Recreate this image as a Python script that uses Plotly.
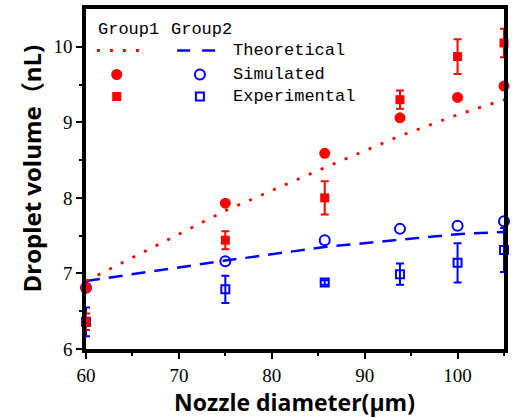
import plotly.graph_objects as go

# Nozzle diameters (µm)
nozzle_d = [60, 75, 85.7, 93.8, 100, 105]

# Group 1 (red)
g1_theory = [6.90, 7.83, 8.40, 8.82, 9.10, 9.30]
g1_sim = [6.81, 7.93, 8.59, 9.06, 9.33, 9.48]
g1_exp = [6.36, 7.44, 8.00, 9.30, 9.87, 10.05]
g1_exp_err = [0.11, 0.12, 0.22, 0.12, 0.23, 0.19]

# Group 2 (blue)
g2_theory = [6.90, 7.17, 7.35, 7.45, 7.52, 7.55]
g2_sim = [6.81, 7.16, 7.44, 7.59, 7.63, 7.69]
g2_exp = [6.36, 6.79, 6.88, 6.99, 7.14, 7.31]
g2_exp_err = [0.19, 0.18, 0.03, 0.14, 0.26, 0.29]

x_ticks = [60, 70, 80, 90, 100]
y_ticks = [6, 7, 8, 9, 10]

RED = "#FF0000"
BLUE = "#0000FF"

W, H = 512, 418
ML, MR, MT, MB = 86, 4, 9, 69
PW, PH = W - ML - MR, H - MT - MB


def fx(px):
    """Pixel x -> paper fraction."""
    return (px - ML) / PW


def fy(py):
    """Pixel y -> paper fraction."""
    return (H - MB - py) / PH


fig = go.Figure()

# Theoretical curves
fig.add_trace(go.Scatter(x=nozzle_d, y=g2_theory, mode="lines",
                         line=dict(color=BLUE, width=2.5, dash="14px,9px"),
                         showlegend=False))
fig.add_trace(go.Scatter(x=nozzle_d, y=g1_theory, mode="lines",
                         line=dict(color=RED, width=2.8, dash="3px,10px"),
                         showlegend=False))

# Group 2 markers
fig.add_trace(go.Scatter(x=nozzle_d, y=g2_exp, mode="markers",
                         marker=dict(symbol="square-open", size=8, color=BLUE,
                                     line=dict(width=2, color=BLUE)),
                         error_y=dict(type="data", array=g2_exp_err, color=BLUE,
                                      thickness=2, width=4),
                         cliponaxis=False, showlegend=False))
fig.add_trace(go.Scatter(x=nozzle_d, y=g2_sim, mode="markers",
                         marker=dict(symbol="circle-open", size=10, color=BLUE,
                                     line=dict(width=2, color=BLUE)),
                         cliponaxis=False, showlegend=False))

# Group 1 markers
fig.add_trace(go.Scatter(x=nozzle_d, y=g1_exp, mode="markers",
                         marker=dict(symbol="square", size=9, color=RED),
                         error_y=dict(type="data", array=g1_exp_err, color=RED,
                                      thickness=2, width=4),
                         cliponaxis=False, showlegend=False))
fig.add_trace(go.Scatter(x=nozzle_d, y=g1_sim, mode="markers",
                         marker=dict(symbol="circle", size=11, color=RED),
                         cliponaxis=False, showlegend=False))

# Two-column key drawn on a paper-fraction overlay axis
key_rows = {"theory": 50.5, "sim": 74.5, "exp": 96.5}
col1_x, col2_x = 117, 201
fig.add_trace(go.Scatter(x=[fx(97), fx(141)], y=[fy(key_rows["theory"])] * 2,
                         mode="lines", line=dict(color=RED, width=2.8, dash="3px,10px"),
                         xaxis="x2", yaxis="y2", showlegend=False))
fig.add_trace(go.Scatter(x=[fx(178), fx(217)], y=[fy(key_rows["theory"])] * 2,
                         mode="lines", line=dict(color=BLUE, width=2.5, dash="13px,12px"),
                         xaxis="x2", yaxis="y2", showlegend=False))
fig.add_trace(go.Scatter(x=[fx(col1_x)], y=[fy(key_rows["sim"])], mode="markers",
                         marker=dict(symbol="circle", size=11, color=RED),
                         xaxis="x2", yaxis="y2", showlegend=False))
fig.add_trace(go.Scatter(x=[fx(col1_x)], y=[fy(key_rows["exp"])], mode="markers",
                         marker=dict(symbol="square", size=9, color=RED),
                         xaxis="x2", yaxis="y2", showlegend=False))
fig.add_trace(go.Scatter(x=[fx(col2_x)], y=[fy(key_rows["sim"])], mode="markers",
                         marker=dict(symbol="circle-open", size=10, color=BLUE,
                                     line=dict(width=2, color=BLUE)),
                         xaxis="x2", yaxis="y2", showlegend=False))
fig.add_trace(go.Scatter(x=[fx(col2_x)], y=[fy(key_rows["exp"])], mode="markers",
                         marker=dict(symbol="square-open", size=8, color=BLUE,
                                     line=dict(width=2, color=BLUE)),
                         xaxis="x2", yaxis="y2", showlegend=False))

key_font = dict(family="Liberation Mono", size=17, color="black")
annotations = [
    dict(text="Group1", x=fx(96), y=fy(29), xanchor="left", yanchor="middle"),
    dict(text="Group2", x=fx(170), y=fy(29), xanchor="left", yanchor="middle"),
    dict(text="Theoretical", x=fx(232), y=fy(key_rows["theory"]), xanchor="left", yanchor="middle"),
    dict(text="Simulated", x=fx(232), y=fy(key_rows["sim"]), xanchor="left", yanchor="middle"),
    dict(text="Experimental", x=fx(232), y=fy(key_rows["exp"]), xanchor="left", yanchor="middle"),
]
for a in annotations:
    a.update(xref="paper", yref="paper", showarrow=False, font=key_font)

title_font = dict(family="Open Sans, Noto Sans CJK SC", size=23, color="black", weight="bold")
annotations.append(dict(text="Nozzle diameter(μm)", x=fx(296), y=fy(402),
                        xref="paper", yref="paper", showarrow=False,
                        xanchor="center", yanchor="middle", font=title_font))
annotations.append(dict(text="Droplet volume（nL)", x=fx(30), y=fy(169),
                        xref="paper", yref="paper", showarrow=False, textangle=-90,
                        xanchor="center", yanchor="middle",
                        font=dict(title_font, size=24)))

serif = "Liberation Serif"
axis_common = dict(showline=True, linecolor="black", linewidth=3.5, mirror=True,
                   ticks="outside", ticklen=6, tickwidth=2, tickcolor="black",
                   showgrid=False, zeroline=False,
                   tickfont=dict(family=serif, size=19, color="black"))

fig.update_layout(
    width=W, height=H,
    margin=dict(l=ML, r=MR, t=MT, b=MB),
    paper_bgcolor="white", plot_bgcolor="white",
    font=dict(family=serif, size=19, color="black"),
    xaxis=dict(range=[60, 105], tickmode="array", tickvals=x_ticks,
               ticktext=[str(v) for v in x_ticks],
               minor=dict(tickvals=[65, 75, 85, 95, 105], ticks="outside",
                          ticklen=3, tickwidth=2, tickcolor="black"),
               **axis_common),
    yaxis=dict(range=[6, 10.5], tickmode="array", tickvals=y_ticks,
               ticktext=[str(v) for v in y_ticks],
               minor=dict(tickvals=[6.5, 7.5, 8.5, 9.5], ticks="outside",
                          ticklen=3, tickwidth=2, tickcolor="black"),
               **axis_common),
    xaxis2=dict(overlaying="x", range=[0, 1], visible=False),
    yaxis2=dict(overlaying="y", range=[0, 1], visible=False),
    annotations=annotations,
    showlegend=False,
)

fig.write_html("out.html")
